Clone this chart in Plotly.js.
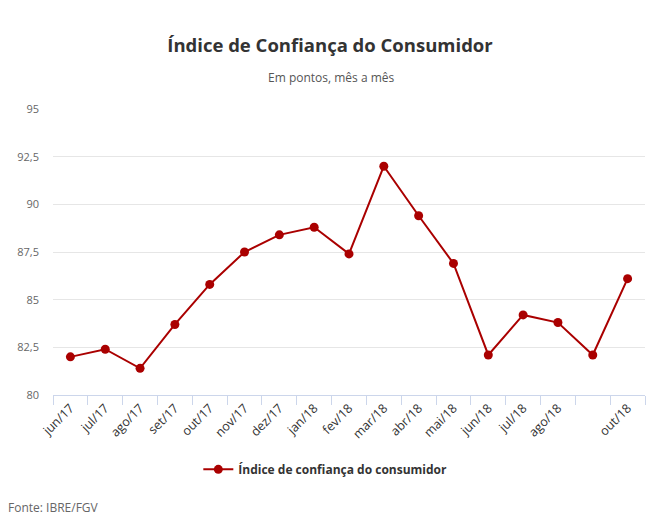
<!DOCTYPE html>
<html>
<head>
<meta charset="utf-8">
<script src="https://cdn.plot.ly/plotly-3.0.1.min.js"></script>
<style>
html,body{margin:0;padding:0;background:#fff;}
#chart{width:660px;height:526px;}
</style>
</head>
<body>
<div id="chart"></div>
<script>
const months = ['jun/17','jul/17','ago/17','set/17','out/17','nov/17','dez/17','jan/18','fev/18','mar/18','abr/18','mai/18','jun/18','jul/18','ago/18','set/18','out/18'];
const tickLabels = ['jun/17','jul/17','ago/17','set/17','out/17','nov/17','dez/17','jan/18','fev/18','mar/18','abr/18','mai/18','jun/18','jul/18','ago/18','','out/18'];
const icc = [82.0, 82.4, 81.4, 83.7, 85.8, 87.5, 88.4, 88.8, 87.4, 92.0, 89.4, 86.9, 82.1, 84.2, 83.8, 82.1, 86.1];
const seriesName = 'Índice de confiança do consumidor';

const trace = {
  x: months,
  y: icc,
  type: 'scatter',
  mode: 'lines+markers',
  name: seriesName,
  line: {color: '#AA0000', width: 2},
  marker: {color: '#AA0000', size: 9},
  hoverinfo: 'x+y'
};

const layout = {
  width: 660,
  height: 526,
  margin: {l: 53, r: 15, t: 109, b: 131, autoexpand: false},
  paper_bgcolor: '#ffffff',
  plot_bgcolor: '#ffffff',
  separators: ',.',
  font: {family: '"Open Sans", sans-serif', size: 11, color: '#666666'},
  showlegend: true,
  title: {
    text: '<b>Índice de Confiança do Consumidor</b>',
    font: {family: '"Open Sans", sans-serif', size: 18.5, color: '#333333'},
    x: 0.5, xanchor: 'center', xref: 'container',
    y: 1 - 46 / 526, yref: 'container', yanchor: 'middle'
  },
  xaxis: {
    type: 'category',
    automargin: false,
    range: [-0.5, months.length - 0.5],
    tickmode: 'array',
    tickvals: months,
    ticktext: tickLabels,
    tickson: 'boundaries',
    ticks: 'outside',
    ticklen: 9,
    tickcolor: '#ccd6eb',
    tickwidth: 1,
    showline: true,
    linecolor: '#ccd6eb',
    linewidth: 1,
    showgrid: false,
    zeroline: false,
    tickangle: -45,
    tickfont: {family: '"Open Sans", sans-serif', size: 12.5, color: '#333333'},
    fixedrange: true
  },
  yaxis: {
    automargin: false,
    range: [80, 95],
    dtick: 2.5,
    tick0: 80,
    showgrid: true,
    gridcolor: '#e6e6e6',
    gridwidth: 1,
    zeroline: false,
    showline: false,
    ticks: '',
    ticklen: 0,
    ticklabelstandoff: 13,
    tickfont: {family: '"Open Sans", sans-serif', size: 11, color: '#666666'},
    fixedrange: true
  },
  legend: {
    orientation: 'h',
    x: 0.460, xanchor: 'center',
    y: -0.26, yanchor: 'middle',
    font: {family: '"Open Sans", sans-serif', size: 12, color: '#333333', weight: 'bold'},
    itemwidth: 30
  },
  annotations: [
    {
      text: 'Em pontos, mês a mês',
      xref: 'paper', yref: 'paper',
      x: (331 - 53) / 592, xanchor: 'center',
      y: (394.7 - 77) / 286, yanchor: 'middle',
      showarrow: false,
      font: {family: '"Open Sans", sans-serif', size: 12, color: '#555555'}
    },
    {
      text: 'Fonte: IBRE/FGV',
      xref: 'paper', yref: 'paper',
      x: -53 / 592, xanchor: 'left',
      xshift: 6,
      y: (394.7 - 507) / 286, yanchor: 'middle',
      showarrow: false,
      font: {family: '"Open Sans", sans-serif', size: 12, color: '#666666'}
    }
  ]
};

Plotly.newPlot('chart', [trace], layout, {displayModeBar: false});
</script>
</body>
</html>
